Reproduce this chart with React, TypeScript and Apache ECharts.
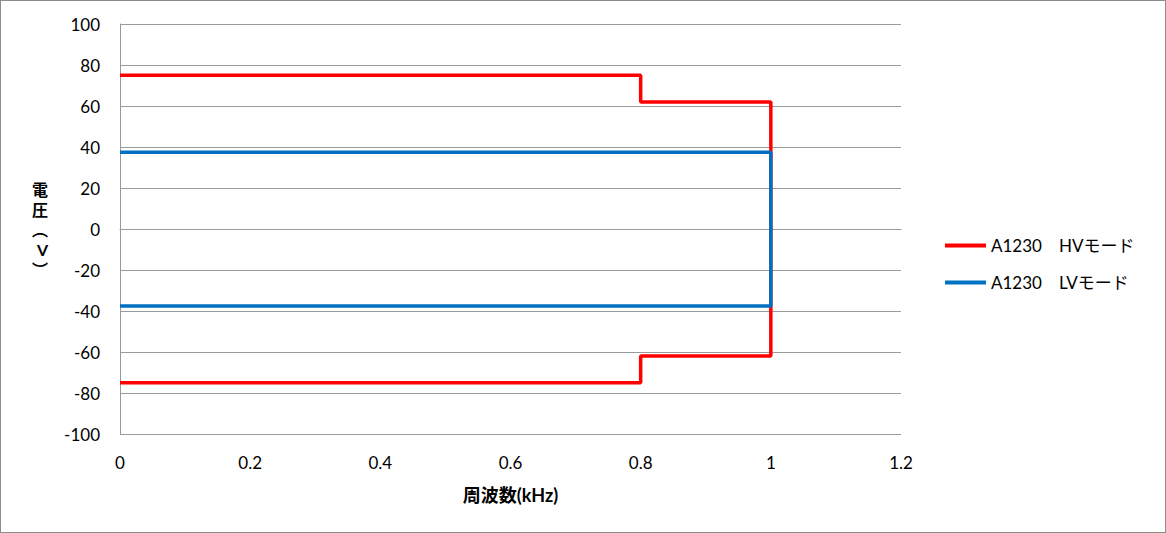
import React, { useEffect, useRef } from "react";
import * as echarts from "echarts";

const seriesNames = ["A1230　HVモード", "A1230　LVモード"];
const hvPoints: [number, number][] = [
  [0, 75], [0.8, 75], [0.8, 62], [1, 62], [1, -62], [0.8, -62], [0.8, -75], [0, -75],
];
const lvPoints: [number, number][] = [
  [0, 37.5], [1, 37.5], [1, -37.5], [0, -37.5],
];
const colors = ["#ff0000", "#0070c0"];
const xName = "周波数(kHz)";
const yName = "電\n圧\n︵\nV\n︶";

const FONT = "Lato, 'Noto Sans CJK JP', sans-serif";

export default function App() {
  const ref = useRef<HTMLDivElement>(null);
  useEffect(() => {
    if (!ref.current) return;
    const chart = echarts.init(ref.current, null, { renderer: "svg" });
    chart.setOption({
      animation: false,
      backgroundColor: "transparent",
      grid: { left: 120, right: 265, top: 24, bottom: 99, containLabel: false },
      legend: {
        orient: "vertical",
        left: 945,
        top: 237,
        padding: 0,
        itemWidth: 41,
        itemHeight: 4,
        itemGap: 20,
        icon: "rect",
        textStyle: { fontFamily: FONT, fontSize: 17, color: "#000" },
        data: seriesNames,
      },
      xAxis: {
        type: "value",
        min: 0,
        max: 1.2,
        interval: 0.2,
        name: xName,
        nameLocation: "middle",
        nameGap: 52,
        nameTextStyle: { fontFamily: FONT, fontSize: 18, fontWeight: "bold", color: "#000" },
        axisLine: { show: true, lineStyle: { color: "#9a9a9a", width: 1 } },
        axisTick: { show: false },
        splitLine: { show: false },
        axisLabel: {
          fontFamily: FONT, fontSize: 17, color: "#000", margin: 20,
          formatter: (v: number) => String(Math.round(v * 10) / 10),
        },
      },
      yAxis: {
        type: "value",
        min: -100,
        max: 100,
        interval: 20,
        name: yName,
        nameLocation: "middle",
        nameRotate: 0,
        nameGap: 72,
        nameTextStyle: { fontFamily: FONT, fontSize: 16, fontWeight: "bold", color: "#000", lineHeight: 20 },
        axisLine: { show: true, onZero: false, lineStyle: { color: "#9a9a9a", width: 1 } },
        axisTick: { show: false },
        splitLine: { show: true, lineStyle: { color: "#9a9a9a", width: 1 } },
        axisLabel: { fontFamily: FONT, fontSize: 17, color: "#000", margin: 20 },
      },
      series: [
        {
          name: seriesNames[0],
          type: "line",
          data: hvPoints,
          symbol: "none",
          lineStyle: { color: colors[0], width: 3.5 },
          itemStyle: { color: colors[0] },
        },
        {
          name: seriesNames[1],
          type: "line",
          data: lvPoints,
          symbol: "none",
          lineStyle: { color: colors[1], width: 3.5 },
          itemStyle: { color: colors[1] },
        },
      ],
    });
    return () => chart.dispose();
  }, []);
  return (
    <div
      style={{
        position: "fixed", left: 0, top: 0, width: 1166, height: 533,
        boxSizing: "border-box", border: "1px solid #8c8c8c", background: "#fff",
      }}
    >
      <div ref={ref} style={{ position: "absolute", left: -1, top: -1, width: 1166, height: 533 }} />
    </div>
  );
}
